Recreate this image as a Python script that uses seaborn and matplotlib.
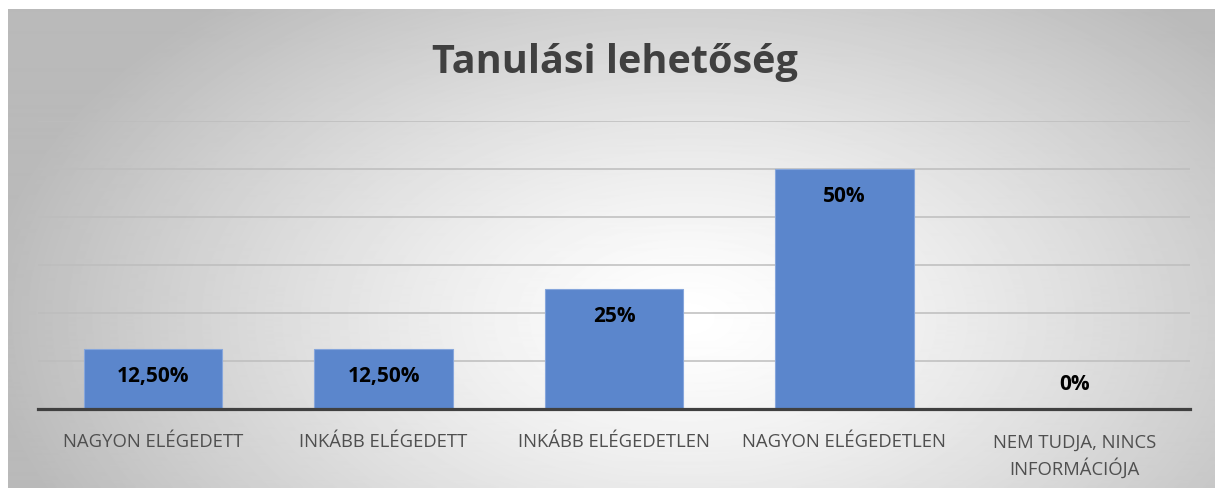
import numpy as np
import pandas as pd
import seaborn as sns
import matplotlib.pyplot as plt

# chart data
categories = ["NAGYON ELÉGEDETT", "INKÁBB ELÉGEDETT", "INKÁBB ELÉGEDETLEN",
              "NAGYON ELÉGEDETLEN", "NEM TUDJA, NINCS\nINFORMÁCIÓJA"]
values = [0.125, 0.125, 0.25, 0.50, 0.0]
value_labels = ["12,50%", "12,50%", "25%", "50%", "0%"]
title = "Tanulási lehetőség"

W, H = 1215, 488
sns.set_style("white")
plt.rcParams['font.family'] = ['Open Sans', 'DejaVu Sans']

fig = plt.figure(figsize=(W / 100, H / 100), dpi=100)

# radial grey-to-white background of the chart area
bg = fig.add_axes([8 / W, 0, 1 - 8 / W, 1 - 9 / H], zorder=-5)
yy, xx = np.mgrid[0:480, 0:1207]
d = np.sqrt(((xx - 680) / 700.0) ** 2 + ((yy - 310) / 420.0) ** 2)
shade = 1.0 - 0.27 * np.clip(d, 0, 1) ** 1.3
bg.imshow(shade, cmap="gray", vmin=0, vmax=1, aspect="auto",
          interpolation="bilinear")
bg.set_axis_off()

df = pd.DataFrame({"cat": categories, "val": values})

ax = fig.add_axes([38 / W, 1 - 409 / H, 1152 / W, 288 / H])
ax.patch.set_alpha(0)
sns.barplot(data=df, x="cat", y="val", color="#5b86cc", width=0.6,
            edgecolor="#86a6dc", linewidth=0.8, saturation=1, ax=ax, zorder=3)

ax.set_ylim(0, 0.6)
ax.set_yticks(np.arange(0, 0.61, 0.1))
ax.yaxis.grid(True, color="#bdbdbd", linewidth=1.1, zorder=0)
ax.set_axisbelow(True)
ax.tick_params(axis="y", left=False, labelleft=False)
ax.tick_params(axis="x", bottom=False, pad=14, labelsize=13.3, labelcolor="#4f4f4f")
for t in ax.get_xticklabels():
    t.set_linespacing(1.4)
    t.set_verticalalignment("top")
ax.set_xlabel("")
ax.set_ylabel("")
for s in ["left", "right", "top"]:
    ax.spines[s].set_visible(False)
ax.spines["bottom"].set_color("#404040")
ax.spines["bottom"].set_linewidth(2.3)
ax.spines["bottom"].set_zorder(4)

for i, (v, lab) in enumerate(zip(values, value_labels)):
    off = -19.5 if v > 0 else 18
    ax.annotate(lab, (i, v), xytext=(0, off), textcoords="offset points",
                ha="center", va="center", fontsize=15, fontweight="bold",
                color="black", zorder=5)

fig.text(615 / W, 1 - 62 / H, title, ha="center", va="center",
         fontsize=28.5, fontweight="bold", color="#404040")

fig.savefig("out.png", dpi=100)
